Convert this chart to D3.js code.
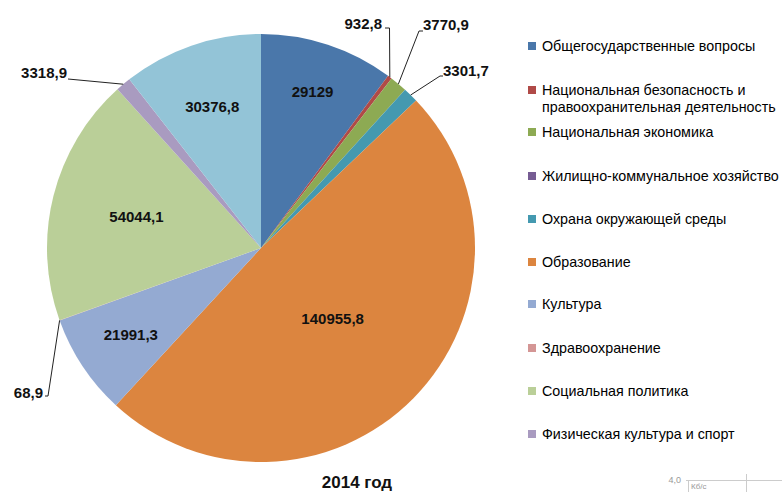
<!DOCTYPE html>
<html><head><meta charset="utf-8">
<script src="https://cdn.jsdelivr.net/npm/d3@7"></script>
<style>
body{margin:0;background:#fff;}
svg{display:block;}
text{font-family:"Liberation Sans",Arial,sans-serif;}
</style></head>
<body><svg id="c" width="782" height="492"></svg>
<script>
const categories = [
  "Общегосударственные вопросы",
  "Национальная безопасность и правоохранительная деятельность",
  "Национальная экономика",
  "Жилищно-коммунальное хозяйство",
  "Охрана окружающей среды",
  "Образование",
  "Культура",
  "Здравоохранение",
  "Социальная политика",
  "Физическая культура и спорт",
  "Средства массовой информации"
];
const values = [29129, 932.8, 3770.9, 0, 3301.7, 140955.8, 21991.3, 68.9, 54044.1, 3318.9, 30376.8];
const valueLabels = ["29129","932,8","3770,9","","3301,7","140955,8","21991,3","68,9","54044,1","3318,9","30376,8"];
const legendLines = [
  ["Общегосударственные вопросы"],
  ["Национальная безопасность и","правоохранительная деятельность"],
  ["Национальная экономика"],
  ["Жилищно-коммунальное хозяйство"],
  ["Охрана окружающей среды"],
  ["Образование"],
  ["Культура"],
  ["Здравоохранение"],
  ["Социальная политика"],
  ["Физическая культура и спорт"]
];
const colors = ["#4A77AA","#B04A47","#8DAA53","#765C93","#4499B0","#DC853F","#94AAD2","#D49695","#BACF98","#A99BC0","#93C4D7"];
const title = "2014 год";

// label layout: inside (radius factor) or outside (leader path offsets)
const labelLayout = [
  {type:"in", rf:0.77},
  {type:"out", pts:[[389.5,28],[385,28]], anchor:"end", tx:382, ty:29},
  {type:"out", pts:[[419,31],[423,31]], anchor:"start", tx:423, ty:30},
  null,
  {type:"out", pts:[[440,76],[443,76]], anchor:"start", tx:443, ty:76},
  {type:"in", rf:0.47},
  {type:"in", rf:0.73},
  {type:"out", pts:[[48,396],[45,396]], anchor:"end", tx:43, ty:398},
  {type:"in", rf:0.60},
  {type:"out", pts:[[68,79]], anchor:"end", tx:67, ty:78},
  {type:"in", rf:0.70}
];

const svg = d3.select("#c");
const cx = 261, cy = 248, R = 214;
const g = svg.append("g").attr("transform",`translate(${cx},${cy})`);

const pie = d3.pie().sort(null).value(d=>d);
const arcs = pie(values);
const arc = d3.arc().innerRadius(0).outerRadius(R);

g.selectAll("path.slice").data(arcs).join("path")
  .attr("class","slice")
  .attr("d",arc)
  .attr("fill",(d,i)=>colors[i]);

function polar(a, r){ return [r*Math.sin(a), -r*Math.cos(a)]; }

arcs.forEach((d,i)=>{
  const L = labelLayout[i];
  if(!L) return;
  const mid = (d.startAngle+d.endAngle)/2;
  if(L.type==="in"){
    const [x,y] = polar(mid, R*L.rf);
    g.append("text").attr("x",x).attr("y",y).attr("dy","0.35em")
      .attr("text-anchor","middle").attr("font-size","15px").attr("font-weight","bold")
      .attr("fill","#111").text(valueLabels[i]);
  } else {
    const [ex,ey] = polar(mid, R);
    const pts = [[ex+cx,ey+cy]].concat(L.pts);
    svg.append("path").attr("d",d3.line()(pts))
      .attr("fill","none").attr("stroke","#222").attr("stroke-width",1);
    svg.append("text").attr("x",L.tx).attr("y",L.ty)
      .attr("text-anchor",L.anchor).attr("font-size","15px").attr("font-weight","bold")
      .attr("fill","#111").text(valueLabels[i]);
  }
});

// legend
const legendY = [46, 90, 132, 176, 219, 262, 304, 348, 391, 434];
const leg = svg.append("g");
legendLines.forEach((lines,i)=>{
  const y = legendY[i];
  leg.append("rect").attr("x",528).attr("y",y-4).attr("width",8).attr("height",8).attr("fill",colors[i]);
  lines.forEach((t,j)=>{
    leg.append("text").attr("x",542).attr("y",y+j*17).attr("dy","0.35em")
      .attr("font-size","14.3px").attr("fill","#000").text(t);
  });
});

svg.append("text").attr("x",357).attr("y",482).attr("dy","0.35em")
  .attr("text-anchor","middle").attr("font-size","17px").attr("font-weight","bold")
  .attr("fill","#111").text(title);

// small leftover fragment in bottom-right corner
const frag = svg.append("g").attr("fill","#999").attr("stroke","#ccc");
frag.append("text").attr("x",681).attr("y",483).attr("text-anchor","end")
  .attr("font-size","9px").attr("stroke","none").text("4,0");
frag.append("line").attr("x1",686).attr("x2",782).attr("y1",480.5).attr("y2",480.5);
frag.append("line").attr("x1",746.5).attr("x2",746.5).attr("y1",474).attr("y2",492);
frag.append("line").attr("x1",688.5).attr("x2",688.5).attr("y1",481).attr("y2",492);
frag.append("text").attr("x",691).attr("y",489).attr("font-size","8px").attr("stroke","none").text("Кб/с");
</script></body></html>
